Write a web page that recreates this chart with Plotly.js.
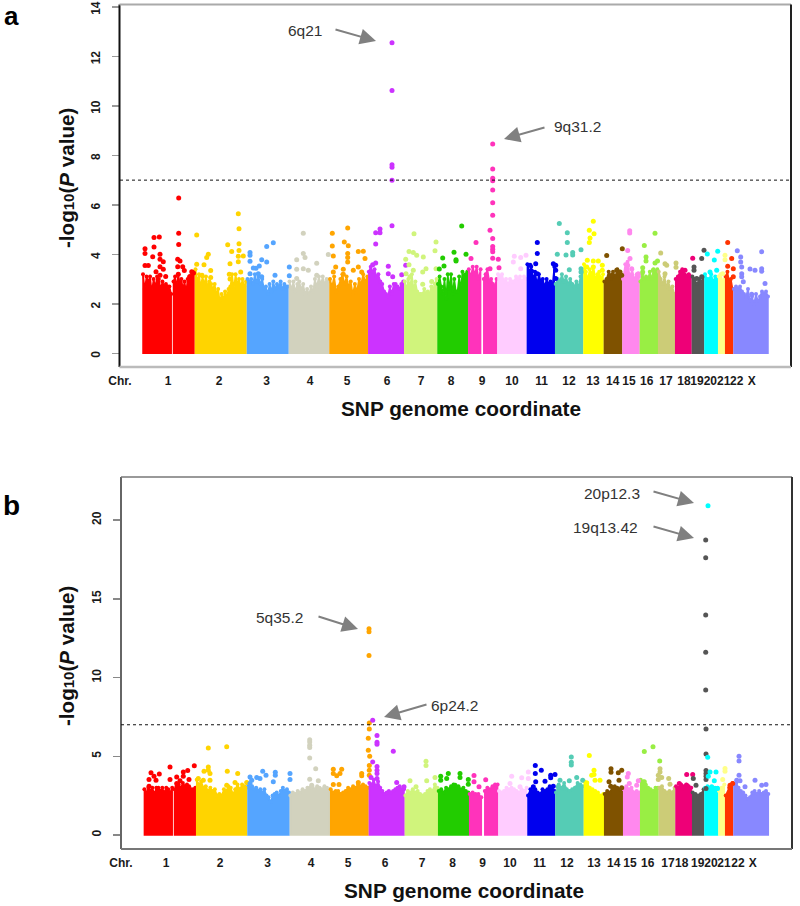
<!DOCTYPE html>
<html><head><meta charset="utf-8">
<script src="https://cdn.plot.ly/plotly-3.0.1.min.js"></script>
<style>html,body{margin:0;padding:0;background:#fff}#c{width:800px;height:906px}</style>
</head><body><div id="c"></div>
<script>
// chromosomes and the order of the colour cycle
const chrNames=['1','2','3','4','5','6','7','8','9','10','11','12','13','14','15','16','17','18','19','20','21','22','X'];
const chrColors=['#ff0000','#ffd400','#55a5ff','#d2d2be','#ffa500','#cc33ff','#d0f47c','#22cc00','#ff33bb','#ffccff','#0000ee','#55ccb5','#ffff00','#7f5200','#ff88ee','#99ee44','#cccc77','#ee0077','#555555','#00ffff','#ffff88','#ff3300','#8888ff'];
// chromosome arm segments: 1 and 9 have a centromere gap
const segChr=[0,0,1,2,3,4,5,6,7,8,8,9,10,11,12,13,14,15,16,17,18,19,20,21,22];

// genome coordinate of segment limits
const aSpans=[[143,171.2],[173.5,194],[195.5,246],[247.5,288],[289.5,328.6],[330,367.3],[368.8,403.3],[404.8,436.6],[438,467.3],[468.8,480.6],[483.8,496.6],[498,526],[527.4,554.3],[555.7,582.6],[584,603],[604.4,621.6],[623,639],[640.4,657.3],[658.7,674.3],[675.7,691],[692.4,703.6],[705,717.3],[718.7,724.3],[725.7,732.6],[734,768]];
const bSpans=[[144.4,172.2],[174.5,195.3],[196.7,246.6],[248,289],[290.4,329.3],[330.7,368],[369.4,404],[405.4,437.3],[438.7,468.3],[469.7,481.3],[484.8,497.6],[499,526.6],[528,554.6],[556,583],[584.4,603.3],[604.7,622.3],[623.7,639.3],[640.7,658],[659.4,674.6],[676,691.3],[692.7,703.6],[705,717.6],[719,724.3],[725.7,732.6],[734,768.3]];

// upper edge of the dense SNP cloud, evenly along each segment
const aCloud=[
[3.2,2.6,3.1,2.9,3.1,2.5,3.0,2.7,3.1,3.0,2.6,2.9,2.7,2.8,2.7,2.7,2.4],
[2.9,3.1,2.7,3.2,2.8,3.0,2.6,2.9,2.5,3.0,3.1,2.9,3.2,3.3],
[3.4,2.9,3.2,2.7,3.1,2.8,3.1,2.7,2.9,2.8,2.6,2.8,2.4,2.6,2.1,2.4,2.2,2.5,2.3,2.6,2.7,3.2,2.6,3.2,2.8,3.0,2.7,3.0,2.7,2.9],
[3.0,2.9,3.0,2.8,3.2,2.9,3.1,2.8,3.0,2.6,2.7,2.4,2.8,2.5,2.9,2.6,2.8,2.7,2.9,2.6,2.8,2.7,2.7],
[2.9,2.6,2.9,2.5,2.8,2.9,2.6,2.8,2.4,2.6,2.4,2.7,2.5,3.0,2.7,3.1,2.8,3.1,2.8,3.0,2.9],
[3.0,2.7,3.1,2.5,2.7,3.0,3.2,2.8,3.1,2.7,2.9,2.4,2.8,2.5,3.0,2.8,3.2,2.9,3.1],
[3.3,3.5,3.3,3.4,3.1,3.2,2.9,2.8,2.5,2.4,2.3,2.7,2.4,2.8,2.8,2.7,2.6,2.8,2.9],
[2.9,2.6,3.0,2.7,3.2,2.6,2.9,2.5,2.4,2.4,2.4,2.6,2.4,2.5,2.4,2.7,2.6,2.8,3.0],
[2.8,3.1,2.7,2.4,3.0,2.2,3.2,2.6,3.2,2.4,3.0,2.5,2.5,3.1,2.6,3.3,3.1,3.2,3.3],
[3.4,3.1,3.5,3.2,3.5,3.0,3.4],
[3.0,3.2,3.4,2.9,3.0,2.8,2.7,3.0],
[3.2,3.1,3.2,2.9,3.0,2.8,3.0,2.9,2.9,3.1,3.0,3.1,2.9,3.1,3.0],
[3.6,3.3,3.5,3.0,3.3,2.8,3.2,2.9,3.0,2.7,3.0,2.8,2.9,2.7,3.5],
[2.8,3.0,2.9,3.2,2.9,3.1,2.8,3.0,2.8,2.7,2.9,2.7,3.1,3.3],
[3.6,3.3,3.0,3.4,3.2,3.5,3.0,3.2,3.3,3.0,3.2],
[2.9,3.0,3.3,3.0,3.3,3.1,3.4,3.2,3.1],
[3.0,3.6,3.7,3.1,3.4,3.0,3.2,3.1],
[2.9,3.2,3.0,3.1,3.0,3.3,3.0,3.4,3.3,3.4],
[3.3,3.0,2.8,3.1,2.7,2.9,2.6,2.7,2.4],
[3.0,3.1,3.3,3.4,3.2,3.1,3.2,3.1],
[3.1,3.0,2.8,3.0,2.9,3.1],
[3.2,3.0,3.0,3.2,2.9,3.1,3.0],
[3.1,3.2,2.9,3.0],
[3.1,3.3,2.9,3.0,2.6],
[2.6,2.7,2.6,2.7,2.5,2.4,2.3,2.6,2.1,2.3,2.0,2.4,2.1,2.3,2.5,2.4,2.5,2.3]];
const bCloud=[
[2.9,2.7,3.0,2.8,3.0,2.6,3.0,3.0,2.8,3.0,2.7,3.0,2.9,2.7,3.0],
[2.9,3.1,3.2,3.0,3.3,3.1,3.2,3.1,2.9,2.9,3.0],
[3.5,3.2,3.4,3.0,3.1,2.8,3.0,2.8,2.9,2.5,2.6,2.5,2.9,2.8,3.1,3.0,2.6,2.9,3.2,2.9,3.2,3.1,3.0],
[3.2,3.0,3.1,2.9,3.0,2.8,2.9,2.7,2.9,2.5,2.4,2.1,2.5,2.6,2.7,2.5,2.8,3.0,2.8,2.9,2.7],
[2.5,2.7,2.6,2.8,2.7,2.9,2.8,3.0,3.0,3.1,2.9,3.1,3.0,2.9,3.1,3.0,2.9],
[2.9,2.7,2.8,2.8,2.6,2.7,2.8,3.0,2.9,3.1,3.0,3.2,3.1,3.2,3.1,3.0],
[3.3,3.2,3.5,3.1,3.4,3.0,2.8,2.6,2.7,2.8,2.7,2.8,2.9,3.0,3.1,2.9,2.9],
[2.5,2.8,2.7,2.9,2.7,2.8,2.6,2.5,2.6,2.8,2.9,2.8,3.2,3.0],
[2.8,2.9,2.7,3.0,2.9,3.1,3.2,3.0,3.1,2.9,3.0,2.8,2.7],
[2.6,2.7,2.6,2.6,2.4],
[2.8,3.0,2.9,3.1,3.2,3.2],
[2.8,2.7,2.8,3.0,2.9,3.0,2.9,2.8,2.7,2.9,2.8,3.0],
[2.5,2.9,2.8,2.9,2.7,2.6,2.9,2.8,2.9,3.1,2.9,2.8],
[2.7,3.2,3.0,3.3,2.9,2.8,2.9,3.0,3.3,3.2,3.1],
[3.4,3.3,3.0,2.9,2.8,2.7,2.5,2.6],
[2.6,2.8,2.7,3.0,3.1,3.0,2.9,2.8],
[2.9,3.1,2.9,3.0,2.7,2.8,2.7],
[3.5,3.4,3.2,3.0,2.9,2.8,3.0,3.0],
[3.0,3.1,2.8,2.7,2.8,2.7,3.0],
[3.1,3.0,3.2,3.1,3.2,3.1,3.0],
[2.7,2.6,2.5,2.6,2.9],
[3.0,3.1,3.0,2.9,3.0,3.0],
[2.8,3.0,3.2],
[2.5,3.0,3.3],
[3.2,3.3,3.0,2.8,2.7,2.5,2.3,2.4,2.7,2.8,2.6,2.8,2.6,2.7,2.8,2.6]];

// individual SNPs above the cloud: [coordinate, -log10 P]
const a1=[[178.7,6.28],[178.7,4.85],[178.7,4.4],[154,4.68],[159.3,4.7],[145,4.23],[145,4.03],[154,4.3],[152.7,3.9],[160,4.0],[160,3.8],[163.3,3.7],[145,3.55],[148.3,3.55],[160,3.5],[163.3,3.4],[156,3.3],[160,3.15],[165.7,3.1],[177.7,3.8],[180,3.73],[177.7,3.5],[182.7,3.5],[184.3,3.35],[178.3,3.2],[191.7,3.3],[193.5,3.25],[190,3.1]];
const a2=[[196.7,4.78],[196.7,3.6],[238.3,5.64],[239,5.03],[227.7,4.39],[239,4.43],[231.7,4.12],[239,4.16],[208.3,4.0],[206.7,3.87],[204,3.58],[238.3,3.92],[243.3,3.93],[230,3.62],[238.3,3.7],[210.7,3.35],[240.7,3.29],[202,3.15],[229.3,3.2],[230,3.0],[210.7,3.06]];
const a3=[[250,4.07],[250,3.96],[273.3,4.47],[266.7,4.32],[261.7,3.78],[266.7,3.69],[250,3.72],[259.3,3.53],[256,3.44],[253.3,3.45],[289.3,3.49],[250,3.22],[258.3,3.22],[275,3.15],[289.3,3.13],[261.7,3.09]];
const a4=[[303.3,4.85],[303.3,4.03],[296.7,3.78],[305,3.87],[316.7,3.64],[328.3,3.99],[303.3,3.42],[296.7,3.4],[308.3,3.36],[296.7,3.02],[316.7,3.15]];
const a5=[[332.3,4.85],[347.7,5.07],[344.3,4.5],[348.3,4.35],[332.3,4.34],[347.7,4.03],[347.7,3.87],[347.7,3.69],[358.3,4.12],[363.3,4.13],[333.3,3.93],[365,3.83],[358.3,3.49],[343.3,3.4],[335.7,3.49],[333.3,3.29],[353.3,3.36],[361.7,3.29],[343.3,3.2]];
const a6=[[392,12.55],[392,10.62],[392,7.62],[392,7.52],[392,7.0],[392,5.16],[375.7,4.87],[380,5.02],[380,4.87],[375.7,4.42],[375.7,3.65],[372.7,3.58],[388.3,3.52],[388.3,3.22],[392.7,3.09],[401.7,3.18],[405.7,3.56]];
const a7=[[414,4.83],[436,4.5],[435,4.15],[409,4.12],[413.3,4.07],[416.7,3.96],[423.3,3.89],[405.7,3.8],[409,3.58],[413.3,3.36],[426,3.42],[436,3.42],[406,3.22],[410,3.09],[422.7,3.29],[422.7,2.79],[431.7,2.9]];
const a8=[[461.7,5.15],[454,4.08],[466,4.0],[442.7,3.85],[456,3.78],[456,3.73],[444,3.53],[439.3,3.41]];
const a9=[[492.7,8.46],[492.7,7.45],[492.7,7.08],[492.7,6.98],[492.7,6.6],[492.7,6.09],[492.7,5.58],[490,4.97],[492.7,4.64],[492.7,4.32],[492.7,4.21],[492.7,4.1],[492.7,3.84],[476,4.48],[471,3.83],[498.3,3.8],[499,3.46],[490,3.42]];
const a10=[[514.3,3.92],[520.7,3.87],[526,3.96],[520.7,3.42],[513.3,3.69]];
const a11=[[537.3,4.48],[537.3,4.03],[535.7,3.62],[530,3.56],[553.3,3.62],[555.7,3.56],[555.7,3.36],[555.7,3.02],[531.7,3.32],[537.3,3.22]];
const a12=[[559.3,5.25],[567.3,4.87],[567.3,4.48],[557.3,4.0],[566,3.97],[572.7,4.07],[572.7,3.97],[581,4.19],[581,3.42],[581,3.29],[569.3,3.38]];
const a13=[[593.3,5.34],[589.3,4.97],[594,4.83],[590,4.66],[589.3,4.48],[587.3,3.76],[593.3,3.73],[598.3,3.73],[586.7,3.49],[593.3,3.49],[602.3,3.56],[602.3,3.36],[591.7,3.22]];
const a14=[[606.7,3.95],[622.3,4.23],[616.7,3.36],[620,3.29],[621.7,3.15],[611.7,3.15]];
const a15=[[629.7,4.95],[629.7,4.86],[627.7,4.16],[630,3.83],[627.7,3.56],[631.7,3.42],[638.3,3.22]];
const a16=[[655,4.85],[644.3,4.36],[646,3.89],[646,3.73],[642.7,3.46],[642.7,3.29],[655,3.65],[657.5,3.73],[653.3,3.36]];
const a17=[[660.7,4.05],[665,3.62],[666.7,3.56],[676,3.65],[676,3.48],[665,3.22]];
const a18=[[692.7,3.84],[685,3.36],[682.7,3.22],[688.3,3.15]];
const a19=[[704,4.17],[701.7,3.83],[694,3.49],[694,3.36],[701.7,3.09],[696.7,3.02]];
const a20=[[707.3,4.01],[717.7,4.13],[714.3,3.77],[716.7,3.36],[710,3.29]];
const a21=[[725,3.96],[725,3.78],[722.7,3.22]];
const a22=[[727.7,4.48],[731.7,3.83],[727.7,3.52],[733.3,3.42],[733.3,3.09]];
const aX=[[737.3,4.15],[761.7,4.11],[740.7,3.89],[740.7,3.69],[741.7,3.49],[750,3.41],[755,3.36],[761.7,3.42],[761.7,3.32],[741.7,3.22],[741.7,3.09],[765,2.82],[751.7,2.39],[743.3,2.89]];

const b1=[[170,4.32],[151,3.95],[159.3,3.88],[154,3.73],[149,3.52],[156,3.48],[170,3.52],[194.3,4.39],[187.7,4.09],[183.3,4.0],[176.7,3.69],[183.3,3.73],[180,3.44],[189,3.52],[149,3.1],[176.7,3.27]];
const b2=[[208.3,5.53],[226.7,5.61],[208.3,4.32],[208.3,4.11],[204,4.05],[227.3,4.05],[237.7,3.9],[210,3.9],[198.3,3.59],[203.3,3.48],[210,3.48],[246.7,3.33],[235,3.33],[226.7,3.16]];
const b3=[[262.7,4.05],[266,3.8],[275.3,3.99],[275.3,3.8],[290,3.9],[290,3.52],[250,3.69],[256.7,3.65],[251.7,3.48],[273.3,3.38],[260,3.59],[250,3.27]];
const b4=[[309.7,6.05],[309.7,5.9],[309.7,5.7],[309.7,5.55],[309.7,4.89],[315.7,4.2],[309.7,3.54],[318.3,3.44],[311.7,3.16]];
const b5=[[369,13.1],[369,12.9],[369,11.4],[369.3,7.11],[369.3,6.73],[368.3,6.14],[368.3,5.38],[369.7,5.0],[369.3,4.41],[369.3,4.11],[369.3,3.8],[333.3,4.18],[341.7,4.18],[333.3,3.9],[340,3.9],[336.7,3.76],[361.7,3.9],[361.7,3.76],[333.3,3.2],[339,3.2],[358.3,3.33]];
const b6=[[372.7,7.28],[377,6.31],[377,5.89],[377,5.76],[393.3,5.32],[372.7,4.64],[377,4.35],[377,4.11],[377,3.9],[371,3.65],[377,3.59],[396.7,3.33],[404,3.06]];
const b7=[[426,4.68],[426,4.41],[410,3.44],[416,3.06],[426.7,3.44],[435,3.65]];
const b8=[[448.3,3.9],[460,3.9],[440.7,3.73],[446.7,3.59],[460,3.65],[440.7,3.48],[468.3,3.52],[468.3,3.23],[455,3.16]];
const b9=[[474,3.78],[474,3.38],[479,3.06],[485.7,3.5]];
const b10=[[511.7,3.73],[521.7,3.63],[528.3,4.0],[528.3,3.59],[510,3.27],[520,3.06]];
const b11=[[535.3,4.41],[541.3,4.11],[535.3,3.9],[550.7,3.8],[555,3.84],[550.7,3.63],[545,3.42],[535.7,3.38],[533.3,3.06],[553.3,3.1]];
const b12=[[571.3,4.96],[571.3,4.62],[571.3,4.45],[560,3.48],[576.7,3.65],[569.3,3.44],[582.7,3.48],[558.3,3.06],[563.3,2.95]];
const b13=[[589.3,5.04],[594,4.11],[594,3.84],[591.7,3.8],[595,3.48],[600,3.48],[586.7,3.31]];
const b14=[[611,4.2],[611,3.99],[621.7,4.11],[618.3,3.95],[619,3.48],[609,3.38],[610.7,3.1],[621.7,3.0]];
const b15=[[628.3,3.9],[627.3,3.69],[638.3,3.44],[629.3,3.27],[636.7,3.16]];
const b16=[[653,5.61],[644.3,5.3],[659.7,4.7],[644.3,3.38],[645,3.16]];
const b17=[[660,4.2],[660,4.0],[658.3,3.8],[661.7,3.65],[668.7,3.59],[658.3,3.52],[670,3.23]];
const b18=[[686.7,3.84],[692.7,3.84],[679.3,3.27],[686.7,3.16],[683.3,2.95]];
const b19=[[705.7,18.73],[705.7,17.6],[705.7,13.97],[705.7,11.6],[705.7,9.2],[706,6.73],[706,5.15],[706,4.09],[706,3.9],[706,3.73],[706,3.52],[693.3,3.59],[696,3.16],[706,2.95]];
const b20=[[708,20.9],[707.7,4.94],[716,4.0],[710,4.0],[708.3,3.73],[714.3,3.44],[711.7,3.06],[717.5,2.95]];
const b21=[[725,4.22],[725,4.05],[722.7,3.52]];
const b22=[[730,3.16],[732.7,3.27]];
const bX=[[739,5.0],[739,4.7],[739,3.8],[736.7,3.48],[740,3.44],[755,3.48],[761.7,3.16],[745,3.06],[766,3.2]];
const aPts=[a1,a2,a3,a4,a5,a6,a7,a8,a9,a10,a11,a12,a13,a14,a15,a16,a17,a18,a19,a20,a21,a22,aX];
const bPts=[b1,b2,b3,b4,b5,b6,b7,b8,b9,b10,b11,b12,b13,b14,b15,b16,b17,b18,b19,b20,b21,b22,bX];

// tick labels on the chromosome axis
const xLabels=['Chr.'].concat(chrNames);
const aLabelPos=[120,168,219,266.7,310,347,387,421,451,482,512,541.7,569,593,612.7,629,646.7,666,684,697,710.3,723.7,736.7,751.7];
const bLabelPos=[121,166,220,267.7,311,348,385,422,452.7,482.7,510,539.7,567,594,613.7,630,647.7,668,681.7,697.7,711,724,738,752.7];
const aYTicks=[0,2,4,6,8,10,12,14];
const bYTicks=[0,5,10,15,20];
const threshold=7;
const xTitle='SNP genome coordinate';

const W=800,H=906;
const traces=[];
function addPanel(spans,cloud,pts,xa,ya){
  spans.forEach((sp,i)=>{
    const c=chrColors[segChr[i]], v=cloud[i], n=v.length;
    const xs=v.map((_,k)=>sp[0]+(sp[1]-sp[0])*k/(n-1));
    traces.push({type:'scatter',mode:'lines+markers',x:xs,y:v,xaxis:xa,yaxis:ya,fill:'tozeroy',fillcolor:c,
      line:{color:c,width:1.5},marker:{color:c,size:4},hoverinfo:'skip',name:'chr'+chrNames[segChr[i]]});
    // vertical ends so the block reaches zero with straight sides
    traces.push({type:'scatter',mode:'lines',x:[sp[0],sp[0],sp[1],sp[1]],y:[v[0],0,0,v[n-1]],xaxis:xa,yaxis:ya,line:{color:c,width:1.5},hoverinfo:'skip'});
  });
  pts.forEach((p,i)=>{
    traces.push({type:'scatter',mode:'markers',x:p.map(q=>q[0]),y:p.map(q=>q[1]),xaxis:xa,yaxis:ya,
      marker:{color:chrColors[i],size:5,line:{width:0}},name:'chr'+chrNames[i]});
  });
}
addPanel(aSpans,aCloud,aPts,'x','y');
addPanel(bSpans,bCloud,bPts,'x2','y2');

const FONT='Liberation Sans, Arial, sans-serif';
function px(x){return x/W} function py(y){return 1-y/H}
const tickF={family:FONT,size:12,weight:700,color:'#1a1a1a'};
function xAxis(left,right,pos,anchor){return {domain:[left/W,right/W],range:[left,right],anchor:anchor,showgrid:false,zeroline:false,showline:false,
  tickmode:'array',tickvals:pos,ticktext:xLabels,ticks:'',tickangle:0,tickfont:tickF,ticklabelstandoff:5,ticklabeloverflow:'allow'}}
function yAxis(top,bottom,lo,hi,vals,anchor,col,shift){return {domain:[py(bottom),py(top)],range:[lo,hi],anchor:anchor,showgrid:false,zeroline:false,showline:false,
  tickmode:'array',tickvals:vals,ticktext:vals.map(String),ticks:'outside',ticklen:7,tickwidth:1.5,tickcolor:col,tickangle:-90,tickfont:tickF,ticklabelstandoff:7,ticklabelshift:shift,ticklabeloverflow:'allow'}}

const layout={width:W,height:H,margin:{l:0,r:0,t:0,b:0},paper_bgcolor:'#fff',plot_bgcolor:'#fff',showlegend:false,hovermode:false,
  xaxis:xAxis(120,791,aLabelPos,'y'),yaxis:yAxis(5,367,-0.554,14.08,aYTicks,'x','#999',3),
  xaxis2:xAxis(121,792,bLabelPos,'y2'),yaxis2:yAxis(477,849,-0.889,22.73,bYTicks,'x2','#888',0),
  shapes:[],annotations:[]};

function frameLine(x0,y0,x1,y1,c,w){layout.shapes.push({type:'line',xref:'paper',yref:'paper',x0:px(x0),y0:py(y0),x1:px(x1),y1:py(y1),line:{color:c,width:w},layer:'above'})}
frameLine(119.5,4.5,119.5,367,'#111',2);frameLine(119.5,4.5,791,4.5,'#aaa',2);frameLine(791,4.5,791,367,'#222',2);frameLine(119.5,367,791,367,'#bbb',2.5);
frameLine(121,477,121,849,'#666',2);frameLine(121,477,792,477,'#777',1.5);frameLine(792,477,792,849,'#333',2);frameLine(121,849,792,849,'#777',2);
[['x domain','y'],['x2 domain','y2']].forEach(r=>layout.shapes.push({type:'line',xref:r[0],yref:r[1],x0:0,x1:1,y0:threshold,y1:threshold,line:{color:'#111',width:1,dash:'3px,3px'},layer:'above'}));

function note(t,x,y,size,extra){layout.annotations.push(Object.assign({text:t,xref:'paper',yref:'paper',x:px(x),y:py(y),xanchor:'center',yanchor:'middle',showarrow:false,font:{family:FONT,size:size,color:'#333'}},extra||{}))}
function arrow(x0,y0,x1,y1){layout.annotations.push({text:'',xref:'paper',yref:'paper',x:px(x1),y:py(y1),axref:'pixel',ayref:'pixel',ax:x0-x1,ay:y0-y1,showarrow:true,arrowhead:2,arrowsize:1.6,arrowwidth:2,arrowcolor:'#808080'})}
note('<b>a</b>',11,16,26,{font:{family:FONT,size:26,color:'#000'}});
note('<b>b</b>',11,506,28,{font:{family:FONT,size:28,color:'#000'}});
const yTitle='<b>-log</b><b><span style="font-size:15px">10</span>(<i>P</i> value)</b>';
note(yTitle,66,178,20.6,{textangle:-90,font:{family:FONT,size:20.6,color:'#111'}});
note(yTitle,66,656,20.6,{textangle:-90,font:{family:FONT,size:20.6,color:'#111'}});
note('<b>'+xTitle+'</b>',460.5,408,20.8,{font:{family:FONT,size:20.8,color:'#111'}});
note('<b>'+xTitle+'</b>',464,890,20.8,{font:{family:FONT,size:20.8,color:'#111'}});
note('6q21',305,31,15.5);note('9q31.2',577,127,15.5);note('5q35.2',279,617,15.5);note('6p24.2',454,705,15.5);note('20p12.3',612,493,15.5);note('19q13.42',605,527,15.5);
arrow(334,29,376,41);arrow(546,127,504,139);arrow(317,616,358,629);arrow(428,704,384,717);arrow(652,491,694,503);arrow(652,526,694,538);

Plotly.newPlot('c',traces,layout,{displayModeBar:false,staticPlot:true});
</script></body></html>
